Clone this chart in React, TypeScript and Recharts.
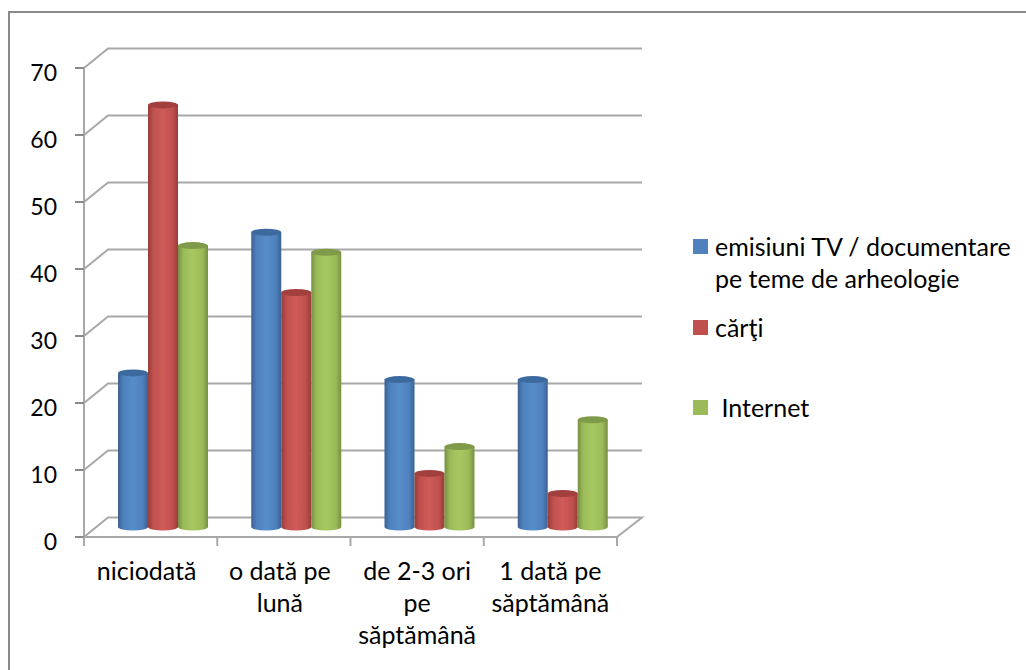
import type { ReactElement } from "react";
import { BarChart, Bar, XAxis, YAxis, CartesianGrid, Legend } from "recharts";

const categories = ["niciodată", "o dată pe lună", "de 2-3 ori pe săptămână", "1 dată pe săptămână"];
// Xuong dong giong anh goc
const categoryLines = [["niciodată"], ["o dată pe", "lună"], ["de 2-3 ori", "pe", "săptămână"], ["1 dată pe", "săptămână"]];
const emisiuni = [23, 44, 22, 22];
const carti = [63, 35, 8, 5];
const internet = [42, 41, 12, 16];
const yTicks = [0, 10, 20, 30, 40, 50, 60, 70];

const data = categories.map((name, i) => ({ name, emisiuni: emisiuni[i], carti: carti[i], internet: internet[i] }));

const WIDTH = 1026;
const HEIGHT = 670;
const FONT = "Lato, 'Open Sans', sans-serif";
const FONT_SIZE = 25;
const TEXT = "#000";
const GRID = "#a8a8a8";
// Do sau cua khung 3D
const DEPTH_X = 24;
const DEPTH_Y = -19.5;
const BAR_DX = 12;
const BAR_DY = -10;
const RY = 3.5;
const BAND = 133.25;
const FLOOR_Y = 537;

const seriesColors = [
  { id: "blue", fill: "#4f81bd", edge: "#3a6292", mid: "#568dcb", top: "#3e6a9e" },
  { id: "red", fill: "#c0504d", edge: "#963d3a", mid: "#cf5b58", top: "#a13f3d" },
  { id: "green", fill: "#9bbb59", edge: "#769042", mid: "#a6c860", top: "#7f9a48" },
];

function cylinder(colorId: string, topColor: string) {
  return (props: any): ReactElement => {
    const { x, y, width, height } = props;
    const left = x + BAR_DX;
    const right = left + width;
    const top = y + BAR_DY;
    const bottom = y + height + BAR_DY;
    const rx = width / 2;
    return (
      <g filter="url(#soft)">
        <path
          d={`M${left},${top} L${left},${bottom} A${rx},${RY} 0 0 0 ${right},${bottom} L${right},${top} Z`}
          fill={`url(#${colorId})`}
        />
        <ellipse cx={left + rx} cy={top} rx={rx} ry={RY} fill={topColor} />
      </g>
    );
  };
}

function gridLine(props: any): ReactElement {
  const { x1, x2, y1 } = props;
  const backY = y1 + DEPTH_Y;
  const isFloor = Math.abs(y1 - FLOOR_Y) < 1;
  const d = `M${x1},${y1} L${x1 + DEPTH_X},${backY} L${x2 + DEPTH_X + 1},${backY}${isFloor ? ` L${x2},${y1}` : ""}`;
  return <path key={props.key ?? y1} d={d} fill="none" stroke={GRID} strokeWidth={2} filter="url(#soft)" />;
}

function CategoryTick(props: any): ReactElement {
  const { x, y, index } = props;
  const edge = x - BAND / 2;
  // Hai nhan dau lech trai mot chut trong anh goc
  const labelX = index < 2 ? x - 4 : x;
  return (
    <g>
      <line x1={edge} y1={y} x2={edge} y2={y + 9} stroke={GRID} strokeWidth={2} />
      {index === categories.length - 1 && (
        <line x1={edge + BAND} y1={y} x2={edge + BAND} y2={y + 9} stroke={GRID} strokeWidth={2} />
      )}
      <text x={labelX} y={y + 43} textAnchor="middle" fontFamily={FONT} fontSize={FONT_SIZE} fill={TEXT}>
        {categoryLines[index].map((line, i) => (
          <tspan key={i} x={labelX} dy={i === 0 ? 0 : 32}>
            {line}
          </tspan>
        ))}
      </text>
    </g>
  );
}

function LegendBox(props: any): ReactElement {
  const gaps = [17, 48, 0];
  return (
    <div style={{ fontFamily: FONT, fontSize: FONT_SIZE, lineHeight: "32px", color: TEXT }}>
      {props.payload.map((item: any, i: number) => (
        <div key={item.value} style={{ display: "flex", marginBottom: gaps[i] }}>
          <span style={{ width: 15, height: 15, marginTop: 9, marginRight: 7, flex: "none", background: item.color }} />
          <span style={{ whiteSpace: "pre-wrap", width: 300 }}>{item.value}</span>
        </div>
      ))}
    </div>
  );
}

export default function App(): ReactElement {
  return (
    <div style={{ position: "absolute", left: 0, top: 0, width: WIDTH, height: HEIGHT, overflow: "hidden", background: "#fff" }}>
      <div
        style={{
          position: "absolute",
          left: 8,
          top: 11,
          right: 0,
          bottom: 0,
          borderLeft: "2px solid #8a8a8a",
          borderTop: "2px solid #8a8a8a",
        }}
      />
      <BarChart
        width={WIDTH}
        height={HEIGHT}
        data={data}
        margin={{ top: 68, right: 409, bottom: 33, left: 0 }}
        barSize={30}
        barGap={0}
        style={{ position: "absolute", left: 0, top: 0 }}
      >
        <defs>
          <filter id="soft" x="-10%" y="-10%" width="120%" height="120%">
            <feGaussianBlur stdDeviation="0.6" />
          </filter>
          {seriesColors.map((c) => (
            <linearGradient key={c.id} id={c.id} x1="0" y1="0" x2="1" y2="0">
              <stop offset="0%" stopColor={c.edge} />
              <stop offset="18%" stopColor={c.fill} />
              <stop offset="50%" stopColor={c.mid} />
              <stop offset="82%" stopColor={c.fill} />
              <stop offset="100%" stopColor={c.edge} />
            </linearGradient>
          ))}
        </defs>
        <CartesianGrid vertical={false} horizontal={gridLine} />
        <XAxis
          dataKey="name"
          height={100}
          axisLine={{ stroke: GRID, strokeWidth: 2 }}
          tickLine={false}
          tickSize={0}
          tickMargin={0}
          interval={0}
          tick={CategoryTick}
        />
        <YAxis
          width={84}
          domain={[0, 70]}
          ticks={yTicks}
          interval={0}
          axisLine={{ stroke: GRID, strokeWidth: 2 }}
          tickLine={{ stroke: "#8a8a8a", strokeWidth: 2 }}
          tickSize={9}
          tickMargin={18}
          tick={{ fontFamily: FONT, fontSize: 23, fill: TEXT, dy: 5 }}
        />
        <Legend
          layout="vertical"
          align="center"
          verticalAlign="middle"
          itemSorter={null}
          wrapperStyle={{ left: 693, top: 230, width: 325 }}
          content={LegendBox}
        />
        <Bar
          dataKey="emisiuni"
          name="emisiuni TV / documentare pe teme de arheologie"
          fill={seriesColors[0].fill}
          shape={cylinder("blue", seriesColors[0].top)}
          isAnimationActive={false}
        />
        <Bar
          dataKey="carti"
          name="cărţi"
          fill={seriesColors[1].fill}
          shape={cylinder("red", seriesColors[1].top)}
          isAnimationActive={false}
        />
        <Bar
          dataKey="internet"
          name=" Internet"
          fill={seriesColors[2].fill}
          shape={cylinder("green", seriesColors[2].top)}
          isAnimationActive={false}
        />
      </BarChart>
    </div>
  );
}
